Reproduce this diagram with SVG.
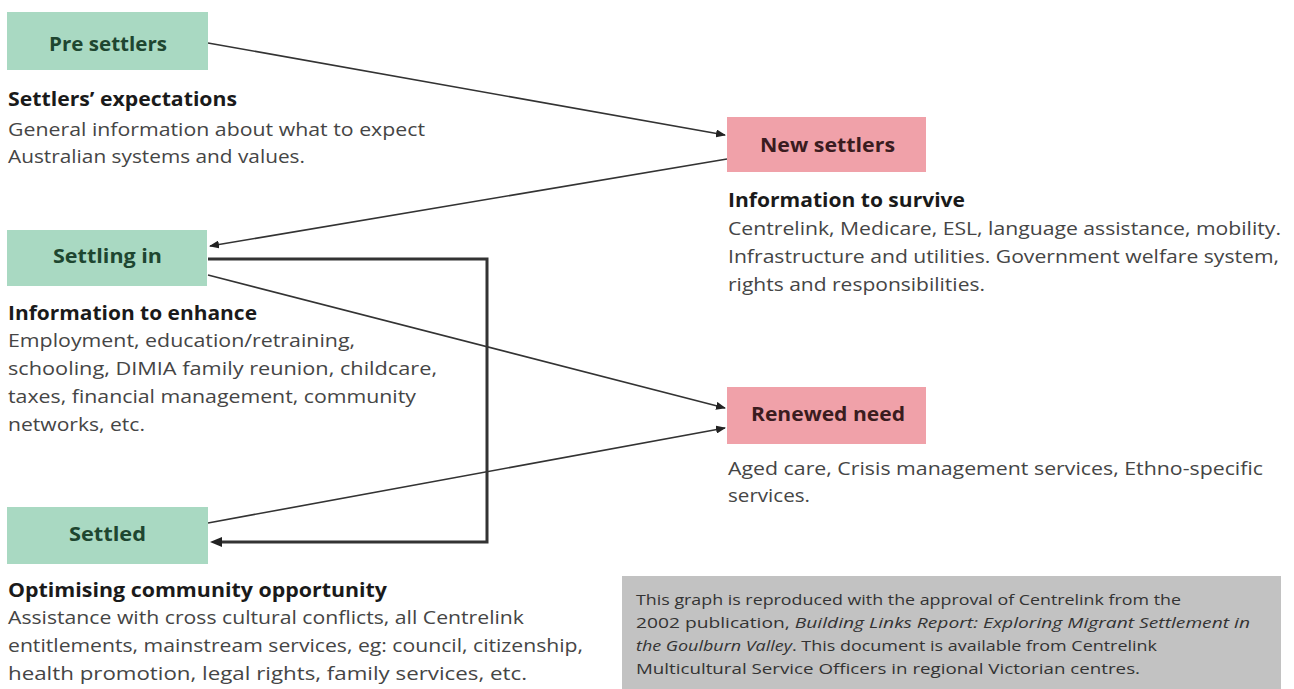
<svg xmlns="http://www.w3.org/2000/svg" width="1294" height="689" viewBox="0 0 1294 689">
<defs>
<marker id="ah" markerWidth="10" markerHeight="8" refX="9" refY="4" orient="auto" markerUnits="userSpaceOnUse">
<path d="M0,0 L10,4 L0,8 Z" fill="#222"/>
</marker>
<style>
.g{fill:#a9d9c2}
.p{fill:#f0a1a9}
text{font-family:"Open Sans","Noto Sans",sans-serif}
.lbg{font-weight:bold;font-size:19px;fill:#1e4630}
.lbp{font-weight:bold;font-size:19px;fill:#3a1c20}
.h{font-weight:bold;font-size:19px;fill:#1a1a1a}
.b{font-size:19px;fill:#454545}
.n{font-size:14px;fill:#333}
.c{fill:none;stroke:#333;stroke-width:1.6}
.k{fill:none;stroke:#333;stroke-width:3}
</style>
</defs>
<rect width="1294" height="689" fill="#fff"/>
<g id="connectors">
<line class="c" x1="208" y1="43" x2="725" y2="135" marker-end="url(#ah)"/>
<line class="c" x1="727" y1="159" x2="210" y2="246" marker-end="url(#ah)"/>
<line class="c" x1="208" y1="275" x2="725" y2="408" marker-end="url(#ah)"/>
<line class="c" x1="208" y1="523" x2="725" y2="428" marker-end="url(#ah)"/>
<polyline class="k" points="208,259 487,259 487,542 220,542"/>
<path d="M210,542 L222,537 L222,547 Z" fill="#222"/>
</g>
<g id="pre-settlers">
<rect class="g" x="7" y="12" width="201" height="58"/>
<text class="lbg" x="49" y="51" textLength="118" lengthAdjust="spacingAndGlyphs">Pre settlers</text>
<text class="h" x="8" y="106" textLength="229" lengthAdjust="spacingAndGlyphs">Settlers’ expectations</text>
<text class="b" x="8" y="136" textLength="417" lengthAdjust="spacingAndGlyphs">General information about what to expect</text>
<text class="b" x="8" y="163" textLength="297" lengthAdjust="spacingAndGlyphs">Australian systems and values.</text>
</g>
<g id="new-settlers">
<rect class="p" x="727" y="117" width="199" height="55"/>
<text class="lbp" x="760" y="152" textLength="135" lengthAdjust="spacingAndGlyphs">New  settlers</text>
<text class="h" x="728" y="207" textLength="237" lengthAdjust="spacingAndGlyphs">Information to survive</text>
<text class="b" x="728" y="235" textLength="553" lengthAdjust="spacingAndGlyphs">Centrelink, Medicare, ESL, language assistance, mobility.</text>
<text class="b" x="728" y="263" textLength="551" lengthAdjust="spacingAndGlyphs">Infrastructure and utilities.  Government welfare system,</text>
<text class="b" x="728" y="291" textLength="257" lengthAdjust="spacingAndGlyphs">rights and responsibilities.</text>
</g>
<g id="settling-in">
<rect class="g" x="7" y="230" width="200" height="56"/>
<text class="lbg" x="53" y="263" textLength="109" lengthAdjust="spacingAndGlyphs">Settling in</text>
<text class="h" x="8" y="320" textLength="249" lengthAdjust="spacingAndGlyphs">Information to enhance</text>
<text class="b" x="8" y="347" textLength="347" lengthAdjust="spacingAndGlyphs">Employment, education/retraining,</text>
<text class="b" x="8" y="375" textLength="429" lengthAdjust="spacingAndGlyphs">schooling, DIMIA family reunion, childcare,</text>
<text class="b" x="8" y="403" textLength="408" lengthAdjust="spacingAndGlyphs">taxes, financial management, community</text>
<text class="b" x="8" y="431" textLength="137" lengthAdjust="spacingAndGlyphs">networks, etc.</text>
</g>
<g id="renewed-need">
<rect class="p" x="727" y="387" width="199" height="57"/>
<text class="lbp" x="751" y="421" textLength="154" lengthAdjust="spacingAndGlyphs">Renewed need</text>
<text class="b" x="728" y="475" textLength="535" lengthAdjust="spacingAndGlyphs">Aged care, Crisis management services, Ethno-specific</text>
<text class="b" x="728" y="502" textLength="82" lengthAdjust="spacingAndGlyphs">services.</text>
</g>
<g id="settled">
<rect class="g" x="7" y="507" width="201" height="57"/>
<text class="lbg" x="69" y="541" textLength="77" lengthAdjust="spacingAndGlyphs">Settled</text>
<text class="h" x="8" y="597" textLength="379" lengthAdjust="spacingAndGlyphs">Optimising community opportunity</text>
<text class="b" x="8" y="624" textLength="516" lengthAdjust="spacingAndGlyphs">Assistance with cross cultural conflicts, all Centrelink</text>
<text class="b" x="8" y="652" textLength="575" lengthAdjust="spacingAndGlyphs">entitlements, mainstream services, eg: council, citizenship,</text>
<text class="b" x="8" y="680" textLength="519" lengthAdjust="spacingAndGlyphs">health promotion, legal rights, family services, etc.</text>
</g>
<g id="note">
<rect x="622" y="576" width="659" height="113" fill="#c2c2c2"/>
<text class="n" x="636" y="605" textLength="545" lengthAdjust="spacingAndGlyphs">This graph is reproduced with the approval of Centrelink from the</text>
<text class="n" x="636" y="628" textLength="614" lengthAdjust="spacingAndGlyphs">2002 publication, <tspan font-style="italic">Building Links Report:  Exploring Migrant Settlement in</tspan></text>
<text class="n" x="636" y="651" textLength="521" lengthAdjust="spacingAndGlyphs"><tspan font-style="italic">the Goulburn Valley</tspan>. This document is available from Centrelink</text>
<text class="n" x="636" y="674" textLength="504" lengthAdjust="spacingAndGlyphs">Multicultural Service Officers in regional Victorian centres.</text>
</g>
</svg>
